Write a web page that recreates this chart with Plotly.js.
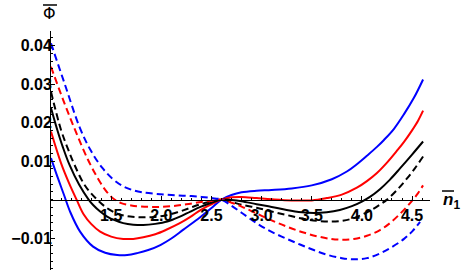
<!DOCTYPE html>
<html><head><meta charset="utf-8">
<script src="https://cdn.plot.ly/plotly-3.0.1.min.js"></script>
<style>html,body{margin:0;padding:0;background:#fff}</style>
</head><body><div id="plot" style="width:463px;height:273px"></div>
<script>
// Blue solid
const nBlueSolid = [0.9,0.97,1.03,1.09,1.19,1.32,1.44,1.56,1.66,1.76,1.87,1.99,2.1,2.22,2.39,2.5,2.6,2.7,2.8,2.95,3.1,3.3,3.5,3.7,3.85,3.95,4.05,4.15,4.22,4.32,4.42,4.52,4.61];
const vBlueSolid = [0.0108,0.0055,0.0012,-0.0031,-0.0083,-0.0122,-0.0138,-0.0144,-0.0144,-0.0139,-0.0131,-0.0118,-0.0101,-0.0078,-0.0045,-0.0022,0,0.0012,0.0019,0.0023,0.0025,0.0029,0.0037,0.0053,0.0073,0.0092,0.0114,0.0137,0.0155,0.0184,0.0222,0.0265,0.0312];
// Red solid
const nRedSolid = [0.9,1.0,1.08,1.155,1.225,1.3,1.39,1.5,1.62,1.72,1.82,1.94,2.06,2.18,2.29,2.39,2.5,2.6,2.7,2.8,2.95,3.1,3.3,3.5,3.65,3.8,3.95,4.05,4.15,4.25,4.35,4.42,4.5,4.56,4.61];
const vRedSolid = [0.0177,0.0095,0.0043,0,-0.0038,-0.0063,-0.0083,-0.0096,-0.0102,-0.0102,-0.0098,-0.009,-0.0077,-0.0062,-0.0045,-0.0027,-0.0012,0,0.0006,0.0007,0.0004,0.0001,-0.0002,-0.0002,0.0004,0.0013,0.0031,0.0048,0.0069,0.0096,0.0127,0.015,0.018,0.0205,0.0231];
// Black solid
const nBlackSolid = [0.9,0.963,1.02,1.085,1.18,1.275,1.32,1.39,1.46,1.54,1.62,1.72,1.82,1.94,2.06,2.18,2.29,2.39,2.5,2.6,2.7,2.8,2.95,3.1,3.25,3.4,3.52,3.65,3.78,3.9,4.0,4.08,4.18,4.28,4.38,4.5,4.61];
const vBlackSolid = [0.0238,0.0181,0.0135,0.009,0.0039,0,-0.0014,-0.0031,-0.0044,-0.0054,-0.0061,-0.0065,-0.0066,-0.0063,-0.0057,-0.0045,-0.0031,-0.0019,-0.0008,0,-0.0001,-0.0004,-0.0012,-0.0019,-0.0027,-0.0033,-0.0035,-0.0033,-0.0027,-0.0017,-0.0005,0.0007,0.0027,0.0052,0.0081,0.0117,0.0151];
// Black dashed
const nBlackDashed = [0.9,1.0,1.07,1.135,1.24,1.36,1.47,1.58,1.69,1.8,1.92,2.04,2.16,2.28,2.39,2.5,2.6,2.7,2.8,2.95,3.1,3.25,3.4,3.55,3.69,3.8,3.92,4.05,4.15,4.25,4.35,4.45,4.53,4.61];
const vBlackDashed = [0.028,0.0181,0.0131,0.009,0.0036,0,-0.0024,-0.0038,-0.0044,-0.0046,-0.0045,-0.0041,-0.0033,-0.0022,-0.0012,-0.0005,0,-0.0006,-0.0013,-0.0021,-0.0031,-0.004,-0.0049,-0.0055,-0.0057,-0.0055,-0.0048,-0.0033,-0.0018,0,0.0025,0.0055,0.0082,0.0112];
// Red dashed
const nRedDashed = [0.9,1.02,1.14,1.27,1.39,1.46,1.52,1.6,1.7,1.8,1.95,2.1,2.25,2.4,2.5,2.6,2.7,2.8,2.95,3.1,3.25,3.4,3.55,3.69,3.8,3.92,4.05,4.18,4.28,4.38,4.45,4.51,4.56,4.61];
const vRedDashed = [0.0345,0.026,0.0181,0.0103,0.0045,0.0019,0.0003,-0.0009,-0.0015,-0.0018,-0.0019,-0.0017,-0.0012,-0.0006,-0.0003,0,-0.0008,-0.0018,-0.0036,-0.0054,-0.007,-0.0084,-0.0095,-0.0102,-0.0104,-0.0102,-0.0094,-0.0079,-0.0061,-0.0037,-0.0018,0,0.0017,0.0037];
// Blue dashed
const nBlueDashed = [0.9,1.04,1.19,1.3,1.41,1.51,1.61,1.71,1.81,1.95,2.1,2.25,2.4,2.5,2.6,2.7,2.8,2.92,3.05,3.2,3.35,3.5,3.65,3.8,3.92,4.05,4.18,4.3,4.42,4.5,4.58];
const vBlueDashed = [0.0406,0.0298,0.0185,0.0126,0.0083,0.0055,0.0036,0.0025,0.0019,0.0015,0.0012,0.001,0.0007,0.0004,0,-0.0016,-0.0034,-0.0056,-0.0077,-0.0096,-0.0113,-0.0129,-0.0143,-0.0152,-0.0155,-0.0152,-0.014,-0.0123,-0.0102,-0.0083,-0.0058];

const xTickVals = [1.5,2.0,2.5,3.0,3.5,4.0,4.5];
const xTickText = ['1.5','2.0','2.5','3.0','3.5','4.0','4.5'];
const yTickVals = [-0.01,0.01,0.02,0.03,0.04];
const yTickText = ['\u22120.01','0.01','0.02','0.03','0.04'];

const xr = [0.9, 4.679];
const yr = [-0.01828, 0.0438];

function tr(n, v, color, dashed) {
  return {x:n, y:v, type:'scatter', mode:'lines',
    line:{color:color, width:2, shape:'spline', smoothing:1, dash: dashed ? '7px,4px' : 'solid'},
    hoverinfo:'skip', showlegend:false};
}
const data = [
  tr(nBlueSolid, vBlueSolid, '#0000ff', false),
  tr(nRedSolid, vRedSolid, '#ff0000', false),
  tr(nBlackSolid, vBlackSolid, '#000000', false),
  tr(nBlackDashed, vBlackDashed, '#000000', true),
  tr(nRedDashed, vRedDashed, '#ff0000', true),
  tr(nBlueDashed, vBlueDashed, '#0000ff', true)
];
const bold = arr => arr.map(t => '<b>' + t + '</b>');
const tickFont = {family:'Liberation Sans, Arial, sans-serif', size:16, color:'#000', weight:700};
const layout = {
  width:463, height:273,
  margin:{l:51, r:33, t:31, b:3, pad:0},
  paper_bgcolor:'#fff', plot_bgcolor:'#fff',
  showlegend:false,
  xaxis:{range:xr, anchor:'free', position:(0-yr[0])/(yr[1]-yr[0]),
    showgrid:false, zeroline:false, showline:true, linecolor:'#000', linewidth:1,
    tickmode:'array', tickvals:xTickVals, ticktext:bold(xTickText),
    ticks:'inside', ticklen:4, tickcolor:'#000', tickwidth:1,
    minor:{ticks:'inside', ticklen:2, dtick:0.1, tick0:0, tickcolor:'#000', showgrid:false},
    tickfont:tickFont, ticklabelstandoff:1},
  yaxis:{range:yr, anchor:'x', showgrid:false, zeroline:false, showline:true, linecolor:'#000', linewidth:1,
    tickmode:'array', tickvals:yTickVals, ticktext:bold(yTickText),
    ticks:'inside', ticklen:4, tickcolor:'#000', tickwidth:1,
    minor:{ticks:'inside', ticklen:2, dtick:0.002, tick0:0, tickcolor:'#000', showgrid:false},
    tickfont:tickFont, ticklabelstandoff:-5},
  annotations:[
    {text:'\u03A6', xref:'paper', yref:'paper', x:-0.003, y:1.075, xanchor:'center', yanchor:'middle', showarrow:false,
     font:{family:'DejaVu Sans, sans-serif', size:16, color:'#000'}},
    {text:'<b><i>n</i></b><sub><b>1</b></sub>', xref:'paper', yref:'paper', x:1.029, y:0.2887, xanchor:'left', yanchor:'middle', showarrow:false,
     font:{family:'Liberation Sans, Arial, sans-serif', size:17, color:'#000'}}
  ],
  shapes:[
    {type:'line', xref:'paper', yref:'paper', x0:-0.0211, x1:0.0158, y0:1.1088, y1:1.1088, line:{color:'#000', width:1.5}},
    {type:'line', xref:'paper', yref:'paper', x0:1.0317, x1:1.0633, y0:0.3305, y1:0.3305, line:{color:'#000', width:1.5}}
  ]
};
Plotly.newPlot('plot', data, layout, {staticPlot:true, displayModeBar:false});
</script></body></html>
